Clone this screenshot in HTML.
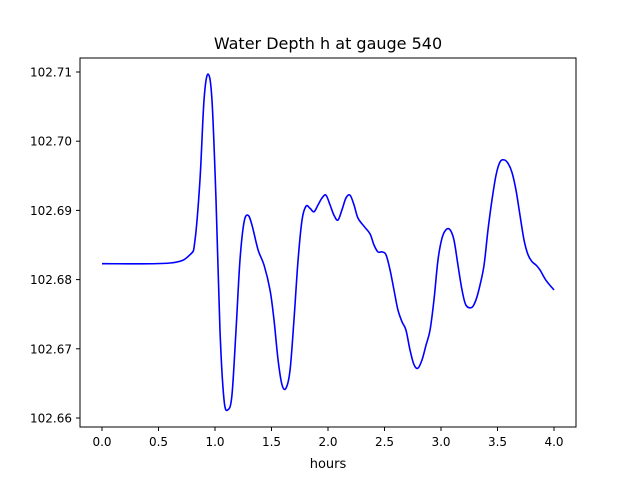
<!DOCTYPE html>
<html><head><meta charset="utf-8"><style>
body{margin:0;background:#fff;width:640px;height:480px;overflow:hidden}
text{font-family:"DejaVu Sans","Liberation Sans",sans-serif;fill:#000}
</style></head><body>
<svg id="chart" width="640" height="480">
<rect x="0" y="0" width="640" height="480" fill="#fff"/>
<text x="328" y="49" font-size="16" text-anchor="middle">Water Depth h at gauge 540</text>
<g id="xt"></g>
<g id="yt"></g>
<path id="line" fill="none" stroke="#0000ff" stroke-width="1.6"/>
<rect x="80" y="58" width="496" height="369" fill="none" stroke="#000" stroke-width="1"/>
<text x="328" y="468" font-size="13" text-anchor="middle">hours</text>
</svg>
<script>
const hours=[0,0.602,0.779,0.823,0.867,0.903,0.938,0.973,1.009,1.044,1.080,1.115,1.150,1.186,1.221,1.257,1.292,1.327,1.381,1.434,1.487,1.522,1.558,1.593,1.628,1.664,1.699,1.735,1.770,1.805,1.841,1.876,1.912,1.947,1.982,2.018,2.053,2.088,2.124,2.159,2.195,2.230,2.265,2.319,2.372,2.407,2.442,2.478,2.513,2.549,2.584,2.619,2.655,2.690,2.726,2.761,2.796,2.832,2.867,2.903,2.938,2.973,3.009,3.044,3.080,3.115,3.150,3.186,3.221,3.274,3.310,3.345,3.381,3.416,3.451,3.487,3.522,3.558,3.593,3.628,3.664,3.699,3.735,3.770,3.805,3.841,3.876,3.929,4.0];
const depth=[102.6823,102.6824,102.6836,102.6857,102.6944,102.7060,102.7097,102.7060,102.6915,102.6727,102.6626,102.6612,102.6633,102.6727,102.6828,102.6883,102.6893,102.6879,102.6843,102.6821,102.6785,102.6742,102.6684,102.6648,102.6643,102.6669,102.6742,102.6828,102.6886,102.6906,102.6903,102.6898,102.6908,102.6918,102.6922,102.6908,102.6893,102.6886,102.6901,102.6918,102.6922,102.6908,102.6889,102.6877,102.6866,102.6850,102.6840,102.6840,102.6836,102.6814,102.6785,102.6756,102.6739,102.6727,102.6698,102.6677,102.6672,102.6684,102.6705,102.6727,102.6771,102.6828,102.6860,102.6872,102.6872,102.6857,102.6821,102.6785,102.6763,102.6760,102.6771,102.6792,102.6821,102.6872,102.6915,102.6951,102.6970,102.6973,102.6968,102.6955,102.6929,102.6893,102.6857,102.6836,102.6826,102.6821,102.6814,102.6799,102.6785];
const xTicks=[0,0.5,1,1.5,2,2.5,3,3.5,4];
const xLabels=["0.0","0.5","1.0","1.5","2.0","2.5","3.0","3.5","4.0"];
const yTicks=[102.66,102.67,102.68,102.69,102.70,102.71];
const yLabels=["102.66","102.67","102.68","102.69","102.70","102.71"];
const X=t=>102+t*113, Y=v=>418-(v-102.66)*6920;
const NS="http://www.w3.org/2000/svg";
const xt=document.getElementById('xt'), yt=document.getElementById('yt');
xTicks.forEach((t,i)=>{
 const l=document.createElementNS(NS,'line');
 l.setAttribute('x1',X(t));l.setAttribute('x2',X(t));l.setAttribute('y1',427);l.setAttribute('y2',431);l.setAttribute('stroke','#000');
 
 
 xt.appendChild(l);
 const s=document.createElementNS(NS,'text');
 s.setAttribute('x',X(t));s.setAttribute('y',446);s.setAttribute('font-size','12');s.setAttribute('text-anchor','middle');s.textContent=xLabels[i];
 
 
 xt.appendChild(s);
});
yTicks.forEach((v,i)=>{
 const l=document.createElementNS(NS,'line');
 l.setAttribute('x1',76);l.setAttribute('x2',80);l.setAttribute('y1',Y(v));l.setAttribute('y2',Y(v));l.setAttribute('stroke','#000');
 
 
 yt.appendChild(l);
 const s=document.createElementNS(NS,'text');
 s.setAttribute('x',72);s.setAttribute('y',Y(v)+4.5);s.setAttribute('font-size','12');s.setAttribute('text-anchor','end');s.textContent=yLabels[i];
 
 
 yt.appendChild(s);
});
const P=hours.map((t,i)=>[X(t),Y(depth[i])]);
let d='M'+P[0][0]+','+P[0][1];
for(let i=0;i<P.length-1;i++){
 const p0=P[Math.max(0,i-1)],p1=P[i],p2=P[i+1],p3=P[Math.min(P.length-1,i+2)];
 const c1=[p1[0]+(p2[0]-p0[0])/6,p1[1]+(p2[1]-p0[1])/6];
 const c2=[p2[0]-(p3[0]-p1[0])/6,p2[1]-(p3[1]-p1[1])/6];
 d+=' C'+c1[0]+','+c1[1]+' '+c2[0]+','+c2[1]+' '+p2[0]+','+p2[1];
}
document.getElementById('line').setAttribute('d',d);
</script>
</body></html>
